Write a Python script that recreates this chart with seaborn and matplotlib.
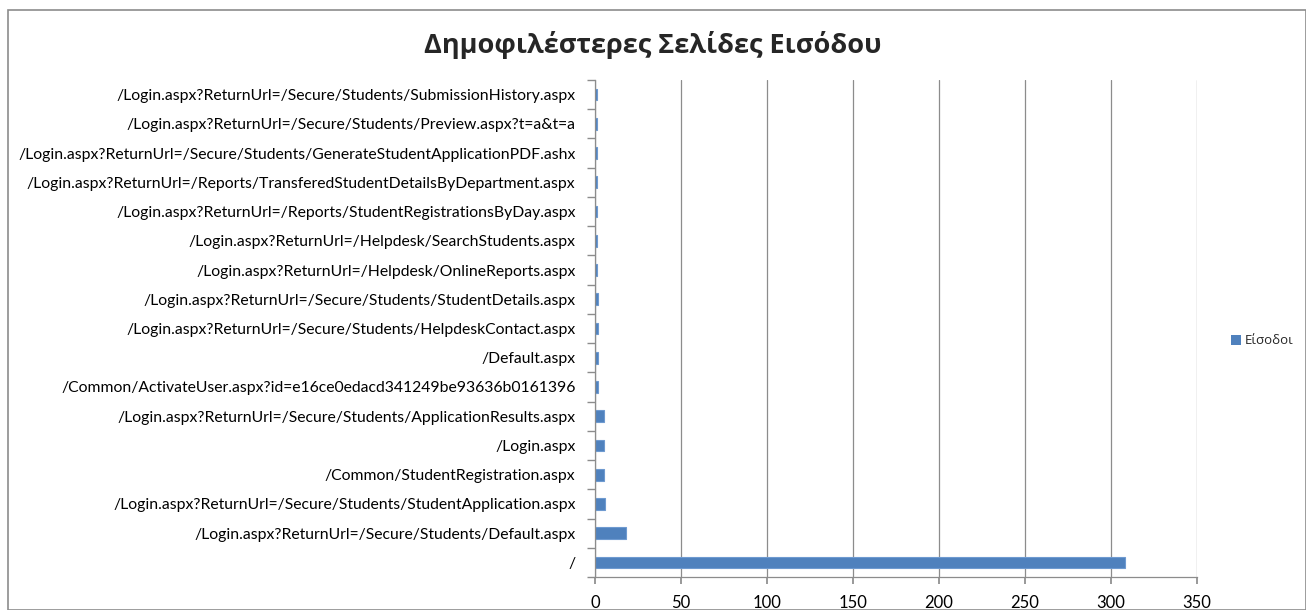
import matplotlib
matplotlib.use("Agg")
import matplotlib.pyplot as plt
import seaborn as sns
import pandas as pd
from matplotlib.patches import Rectangle, Patch
from matplotlib.ticker import FixedLocator

pages = [
    "/Login.aspx?ReturnUrl=/Secure/Students/SubmissionHistory.aspx",
    "/Login.aspx?ReturnUrl=/Secure/Students/Preview.aspx?t=a&t=a",
    "/Login.aspx?ReturnUrl=/Secure/Students/GenerateStudentApplicationPDF.ashx",
    "/Login.aspx?ReturnUrl=/Reports/TransferedStudentDetailsByDepartment.aspx",
    "/Login.aspx?ReturnUrl=/Reports/StudentRegistrationsByDay.aspx",
    "/Login.aspx?ReturnUrl=/Helpdesk/SearchStudents.aspx",
    "/Login.aspx?ReturnUrl=/Helpdesk/OnlineReports.aspx",
    "/Login.aspx?ReturnUrl=/Secure/Students/StudentDetails.aspx",
    "/Login.aspx?ReturnUrl=/Secure/Students/HelpdeskContact.aspx",
    "/Default.aspx",
    "/Common/ActivateUser.aspx?id=e16ce0edacd341249be93636b0161396",
    "/Login.aspx?ReturnUrl=/Secure/Students/ApplicationResults.aspx",
    "/Login.aspx",
    "/Common/StudentRegistration.aspx",
    "/Login.aspx?ReturnUrl=/Secure/Students/StudentApplication.aspx",
    "/Login.aspx?ReturnUrl=/Secure/Students/Default.aspx",
    "/",
]
entries = [1, 1, 1, 1, 1, 1, 1, 2, 2, 2, 2, 5, 5, 5, 6, 18, 308]
series_name = "Είσοδοι"
title = "Δημοφιλέστερες Σελίδες Εισόδου"
x_ticks = [0, 50, 100, 150, 200, 250, 300, 350]

df = pd.DataFrame({"page": pages, "entries": entries})

sns.set_theme(style="white")
plt.rcParams["font.family"] = ["Lato", "DejaVu Sans"]

fig = plt.figure(figsize=(13.06, 6.10), dpi=100)
ax = fig.add_axes([595 / 1306, 1 - 577 / 610, (1197 - 595) / 1306, (577 - 80) / 610])

color = "#4F81BD"
sns.barplot(data=df, x="entries", y="page", orient="h", color=color,
            width=0.4, ax=ax, saturation=1, edgecolor="#6E9AD0", linewidth=0.8)

ax.set_xlim(0, 350)
ax.set_ylim(len(pages) - 0.5, -0.5)
ax.xaxis.set_major_locator(FixedLocator(x_ticks))
ax.grid(axis="x", color="#8C8C8C", linewidth=0.9)
ax.set_axisbelow(True)
ax.set_xlabel("")
ax.set_ylabel("")

for s in ["top", "right"]:
    ax.spines[s].set_visible(False)
for s in ["left", "bottom"]:
    ax.spines[s].set_color("#8C8C8C")
    ax.spines[s].set_linewidth(0.9)

ax.tick_params(axis="x", which="major", direction="out", length=5, color="#8C8C8C",
               labelsize=12, pad=8, bottom=True)
ax.tick_params(axis="y", which="major", length=0, labelsize=11.3, pad=14)
ax.yaxis.set_minor_locator(FixedLocator([i - 0.5 for i in range(len(pages) + 1)]))
ax.tick_params(axis="y", which="minor", direction="out", length=6, color="#8C8C8C", left=True)
for lbl in ax.get_xticklabels() + ax.get_yticklabels():
    lbl.set_color("black")

fig.text(0.5, 1 - 45 / 610, title, ha="center", va="center",
         fontsize=19.5, fontweight="bold", family=["Open Sans", "DejaVu Sans"])

handle = Patch(facecolor=color, edgecolor="none")
fig.legend([handle], [series_name], loc="center left",
           bbox_to_anchor=(1231 / 1306, 1 - 341 / 610), frameon=False,
           prop={"family": ["Open Sans", "DejaVu Sans"], "size": 9.5},
           handlelength=0.75, handleheight=0.75, handletextpad=0.3,
           borderaxespad=0, borderpad=0)

fig.patches.append(Rectangle((8 / 1306, 0), 1 - 8 / 1306, 1 - 10 / 610,
                             transform=fig.transFigure, fill=False,
                             edgecolor="#8C8C8C", linewidth=1.2))

fig.savefig("out.png", dpi=100)
